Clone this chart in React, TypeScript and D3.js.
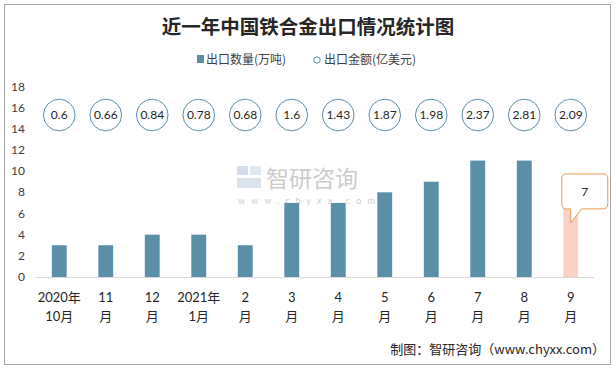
import React from "react";
import * as d3 from "d3";

// data
const months = ["2020年|10月", "11|月", "12|月", "2021年|1月", "2|月", "3|月", "4|月", "5|月", "6|月", "7|月", "8|月", "9|月"];
const exportVolume = [3, 3, 4, 4, 3, 7, 7, 8, 9, 11, 11, 7];
const exportValue = [0.6, 0.66, 0.84, 0.78, 0.68, 1.6, 1.43, 1.87, 1.98, 2.37, 2.81, 2.09];
const yTicks = [0, 2, 4, 6, 8, 10, 12, 14, 16, 18];

const W = 616;
const H = 369;
const barColor = "#5b8fa8";
const numFont = "Lato, 'Noto Sans CJK SC', sans-serif";
const cjkFont = "'Noto Sans CJK SC', sans-serif";

const App = () => {
    const x = d3.scaleBand<number>()
        .domain(d3.range(months.length))
        .range([36, 594])
        .paddingInner(0.68)
        .paddingOuter(0.34);
    const y = d3.scaleLinear().domain([0, 18]).range([277, 86.5]);
    const bw = x.bandwidth();
    const last = months.length - 1;

    // callout on the last bar
    const cx = (x(last) as number) + bw / 2;
    const tipY = y(exportVolume[last]) + 20;
    const bx0 = cx - 9, bx1 = cx + 37, by1 = tipY - 14, by0 = by1 - 35, r = 5;
    const callout = `M${bx0 + r},${by0} H${bx1 - r} Q${bx1},${by0} ${bx1},${by0 + r} V${by1 - r} Q${bx1},${by1} ${bx1 - r},${by1}
      H${cx + 11} L${cx},${tipY} L${cx},${by1} H${bx0 + r} Q${bx0},${by1} ${bx0},${by1 - r} V${by0 + r} Q${bx0},${by0} ${bx0 + r},${by0} Z`;

    return (
        <div style={{ position: "absolute", left: 0, top: 0 }}>
            <svg width={W} height={H} style={{ display: "block", background: "#fff" }}>
                <rect x={4.5} y={4.5} width={606} height={360} fill="#fff" stroke="#a6a6a6" />
                <text x={308} y={34} textAnchor="middle" fontFamily={cjkFont} fontWeight="bold" fontSize={19.5} fill="#262626">
                    近一年中国铁合金出口情况统计图
                </text>

                {/* legend */}
                <rect x={197} y={55} width={7} height={8} fill={barColor} />
                <text x={206} y={64} fontFamily={cjkFont} fontSize={12} fill="#404040">出口数量(万吨)</text>
                <circle cx={317} cy={60} r={3.2} fill="#fff" stroke={barColor} strokeWidth={1} />
                <text x={324} y={64} fontFamily={cjkFont} fontSize={12} fill="#404040">出口金额(亿美元)</text>

                {/* watermark */}
                <g opacity={0.5}>
                    <rect x={237} y={166} width={11} height={9} fill="#a9bfd6" />
                    <rect x={250} y={166} width={11} height={9} fill="#c5d3e2" />
                    <rect x={237} y={178} width={24} height={10} fill="#b8c9dc" />
                    <text x={266} y={187} fontFamily={cjkFont} fontSize={23} fill="#9a9a9a">智研咨询</text>
                    <text x={238} y={204} fontFamily={numFont} fontSize={9} letterSpacing={6} fill="#9a9a9a">www.chyxx.com</text>
                </g>

                {/* y axis labels */}
                {yTicks.map(t => (
                    <text key={t} x={25} y={y(t) + 4} textAnchor="end" fontFamily={numFont} fontSize={12} fill="#404040">{t}</text>
                ))}

                {/* bars */}
                {exportVolume.map((v, i) => (
                    <rect key={i} x={x(i)} y={y(v)} width={bw} height={y(0) - y(v)}
                        fill={i === last ? "#f8d2c6" : barColor} />
                ))}
                <line x1={36} x2={594} y1={277.5} y2={277.5} stroke="#d9d9d9" />

                {/* value circles */}
                {exportValue.map((v, i) => {
                    const c = (x(i) as number) + bw / 2;
                    return (
                        <g key={i}>
                            <circle cx={c} cy={115} r={15.8} fill="#fff" stroke={barColor} strokeWidth={1} />
                            <text x={c} y={119} textAnchor="middle" fontFamily={numFont} fontSize={12} fill="#262626">{v}</text>
                        </g>
                    );
                })}

                <path d={callout} fill="#fff" stroke="#ea9a4c" strokeWidth={1} />
                <text x={(bx0 + bx1) / 2} y={(by0 + by1) / 2 + 4.5} textAnchor="middle" fontFamily={numFont} fontSize={12} fill="#262626">
                    {exportVolume[last]}
                </text>

                {/* x labels */}
                {months.map((m, i) => {
                    const c = (x(i) as number) + bw / 2;
                    return m.split("|").map((line, j) => (
                        <text key={i + "-" + j} x={c} y={302 + j * 19} textAnchor="middle" fontFamily={numFont} fontSize={13} fill="#262626">{line}</text>
                    ));
                })}

                <text x={605} y={354} textAnchor="end" fontFamily={cjkFont} fontSize={13} fill="#262626">
                    制图：智研咨询（www.chyxx.com）
                </text>
            </svg>
        </div>
    );
};

export default App;
